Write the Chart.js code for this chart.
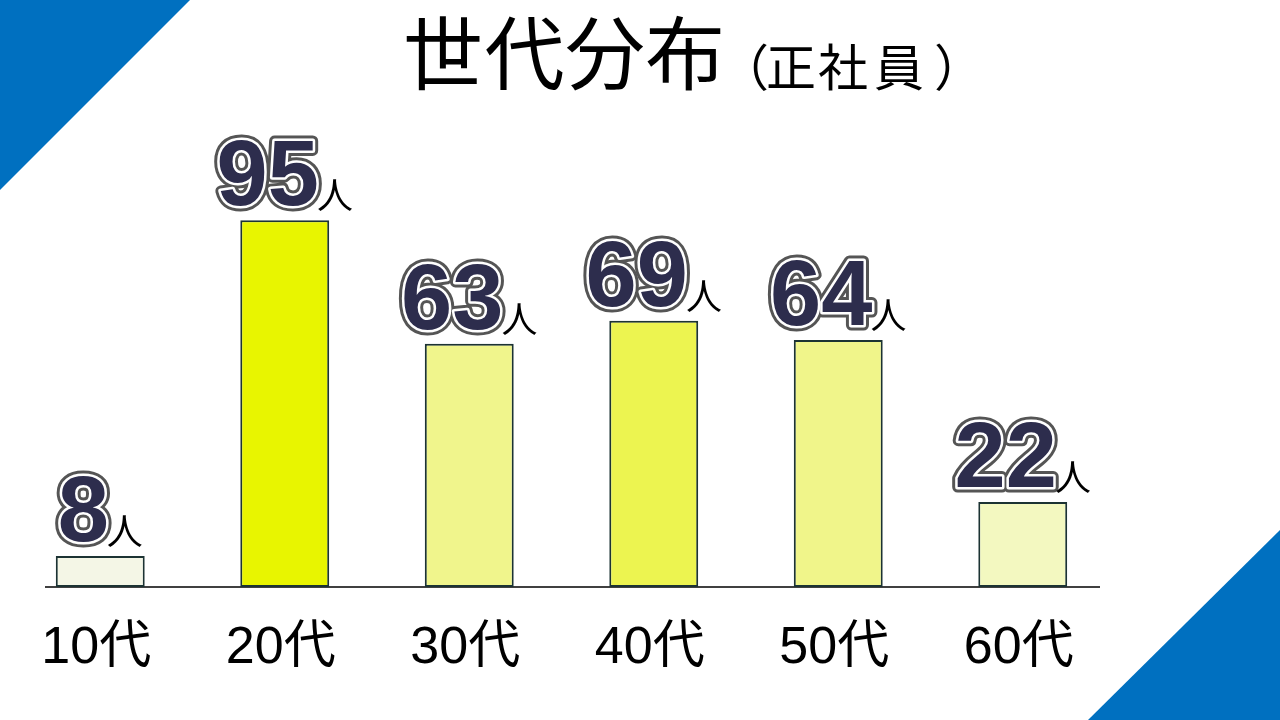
<!DOCTYPE html>
<html>
<head>
<meta charset="utf-8">
<script src="https://cdn.jsdelivr.net/npm/chart.js@4.4.1/dist/chart.umd.min.js"></script>
<style>
html,body{margin:0;padding:0;background:#fff;}
#wrap{width:1280px;height:720px;position:relative;}
</style>
</head>
<body>
<div id="wrap"><canvas id="c" width="1280" height="720"></canvas></div>
<script>
const categories = ["10代", "20代", "30代", "40代", "50代", "60代"];
const employees = [8, 95, 63, 69, 64, 22];
const unitLabel = "人";
const titleMain = "世代分布";
const titleSub = "（正社員）";
const barColors = ["#f4f6e6", "#e8f500", "#f0f58c", "#ecf450", "#f0f58a", "#f3f8c0"];

function drawCharsCentered(ctx, text, centers, y) {
  const chars = Array.from(text);
  ctx.textAlign = "left";
  chars.forEach((ch, i) => {
    const m = ctx.measureText(ch);
    const x = centers[i] - (m.actualBoundingBoxRight - m.actualBoundingBoxLeft) / 2;
    ctx.fillText(ch, x, y);
  });
}

const decoPlugin = {
  id: "deco",
  beforeDraw(chart) {
    const ctx = chart.ctx;
    ctx.save();
    ctx.fillStyle = "#ffffff";
    ctx.fillRect(0, 0, chart.width, chart.height);
    ctx.fillStyle = "#0070c0";
    ctx.beginPath();
    ctx.moveTo(0, 0); ctx.lineTo(190, 0); ctx.lineTo(0, 190); ctx.closePath();
    ctx.fill();
    ctx.beginPath();
    ctx.moveTo(1280, 530); ctx.lineTo(1280, 720); ctx.lineTo(1088, 720); ctx.closePath();
    ctx.fill();
    // title
    ctx.fillStyle = "#000";
    ctx.textBaseline = "middle";
    ctx.font = "80px 'Noto Sans CJK JP'";
    drawCharsCentered(ctx, titleMain, [443, 524, 605, 684], 53);
    ctx.font = "50px 'Noto Sans CJK JP'";
    drawCharsCentered(ctx, titleSub, [760, 791, 843, 899, 943], 67);
    ctx.restore();
  },
  beforeDatasetsDraw(chart) {
    const ctx = chart.ctx;
    const y0 = chart.scales.y.getPixelForValue(0);
    ctx.save();
    ctx.strokeStyle = "#404040";
    ctx.lineWidth = 2;
    ctx.beginPath();
    ctx.moveTo(45, y0); ctx.lineTo(1100, y0);
    ctx.stroke();
    ctx.restore();
  },
  afterDatasetsDraw(chart) {
    const ctx = chart.ctx;
    const meta = chart.getDatasetMeta(0);
    ctx.save();
    meta.data.forEach((bar, i) => {
      const txt = String(chart.data.datasets[0].data[i]);
      ctx.font = "bold 92px 'Liberation Sans'";
      const nw = ctx.measureText(txt).width;
      const mw = 36;
      const gw = nw + mw - 2;
      const left = bar.x - gw / 2;
      const by = bar.y - 15;
      ctx.textAlign = "left";
      ctx.textBaseline = "alphabetic";
      ctx.lineJoin = "round";
      ctx.strokeStyle = "#555555";
      ctx.lineWidth = 11;
      ctx.strokeText(txt, left, by);
      ctx.strokeStyle = "#ffffff";
      ctx.lineWidth = 5;
      ctx.strokeText(txt, left, by);
      ctx.fillStyle = "#2d2d4d";
      ctx.fillText(txt, left, by);
      ctx.font = "36px 'Noto Sans CJK JP'";
      ctx.fillStyle = "#000";
      ctx.fillText(unitLabel, left + nw - 2, bar.y - 11);
    });
    ctx.restore();
  }
};

new Chart(document.getElementById("c"), {
  type: "bar",
  data: {
    labels: categories,
    datasets: [{
      data: employees,
      backgroundColor: barColors,
      borderColor: "#1c3333",
      borderWidth: 2,
      borderSkipped: false,
      barPercentage: 1,
      categoryPercentage: 0.482
    }]
  },
  options: {
    responsive: false,
    animation: false,
    devicePixelRatio: 1,
    layout: { padding: { left: 8, right: 165, top: 201, bottom: 0 } },
    plugins: { legend: { display: false }, title: { display: false }, tooltip: { enabled: false } },
    scales: {
      y: { display: false, min: 0, max: 100 },
      x: {
        grid: { display: false, drawTicks: false },
        border: { display: false },
        ticks: {
          color: "#000",
          padding: 30,
          labelOffset: -4,
          font: { family: "'Liberation Sans', 'Noto Sans CJK JP'", size: 52 }
        },
        afterFit(scale) { scale.height = 133; }
      }
    }
  },
  plugins: [decoPlugin]
});
</script>
</body>
</html>
